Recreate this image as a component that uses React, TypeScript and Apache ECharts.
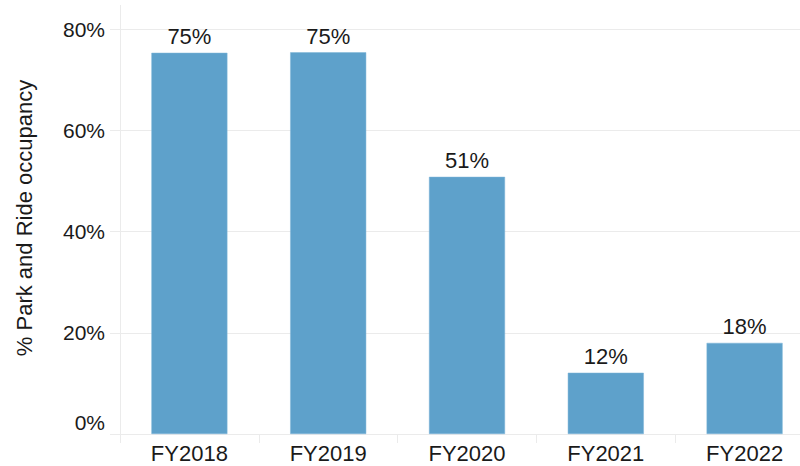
import React, { useEffect, useRef } from "react";
import * as echarts from "echarts";

const categories = ["FY2018", "FY2019", "FY2020", "FY2021", "FY2022"];
const occupancy = [75.3, 75.4, 50.8, 12.1, 18.0];
const yTicks = [0, 20, 40, 60, 80];
const yTitle = "% Park and Ride occupancy";

const FONT = "'Liberation Sans', Arial, sans-serif";
const TEXT = "#1a1a1a";
const LINE = "#ebebeb";

export default function App() {
  const ref = useRef<HTMLDivElement>(null);
  useEffect(() => {
    if (!ref.current) return;
    const chart = echarts.init(ref.current, null, { renderer: "svg" });
    chart.setOption({
      animation: false,
      backgroundColor: "#ffffff",
      grid: { left: 120, right: 0, top: 29, bottom: 32, containLabel: false },
      xAxis: {
        type: "category",
        data: categories,
        axisLine: { show: true, lineStyle: { color: LINE, width: 1 } },
        axisTick: { show: true, length: 9, lineStyle: { color: LINE } },
        axisLabel: { fontSize: 22, color: TEXT, fontFamily: FONT, margin: 8 },
        splitLine: { show: false },
      },
      yAxis: {
        type: "value",
        min: yTicks[0],
        max: yTicks[yTicks.length - 1],
        interval: 20,
        axisLine: { show: true, lineStyle: { color: LINE, width: 1 } },
        axisTick: { show: true, length: 10, lineStyle: { color: LINE } },
        axisLabel: {
          fontSize: 21,
          color: TEXT,
          fontFamily: FONT,
          margin: 15,
          formatter: (v: number) => (v === 0 ? `{zero|${v}%}` : `${v}%`),
          rich: {
            zero: {
              fontSize: 21,
              color: TEXT,
              fontFamily: FONT,
              padding: [0, 0, 24, 0],
            },
          },
        },
        splitLine: { show: true, lineStyle: { color: LINE, width: 1 } },
      },
      series: [
        {
          type: "bar",
          data: occupancy,
          barWidth: 76,
          itemStyle: { color: "#5ea1cb", borderColor: "#7db5d8", borderWidth: 0.5 },
          label: {
            show: true,
            position: "top",
            distance: 5,
            fontSize: 22,
            color: TEXT,
            fontFamily: FONT,
            formatter: (p: any) => `${Math.round(p.value)}%`,
          },
        },
      ],
      graphic: [
        {
          type: "line",
          shape: { x1: 120.5, y1: 5, x2: 120.5, y2: 29 },
          style: { stroke: LINE, lineWidth: 1 },
          silent: true,
        },
        {
          type: "text",
          x: 24,
          y: 218,
          rotation: Math.PI / 2,
          style: {
            text: yTitle,
            fontSize: 22,
            fontFamily: FONT,
            fill: TEXT,
            textAlign: "center",
            textVerticalAlign: "middle",
          },
          silent: true,
        },
      ],
    });
    return () => chart.dispose();
  }, []);
  return (
    <div style={{ position: "fixed", left: 0, top: 0, width: 800, height: 466, overflow: "hidden" }}>
      <div ref={ref} style={{ width: 814, height: 466 }} />
    </div>
  );
}
